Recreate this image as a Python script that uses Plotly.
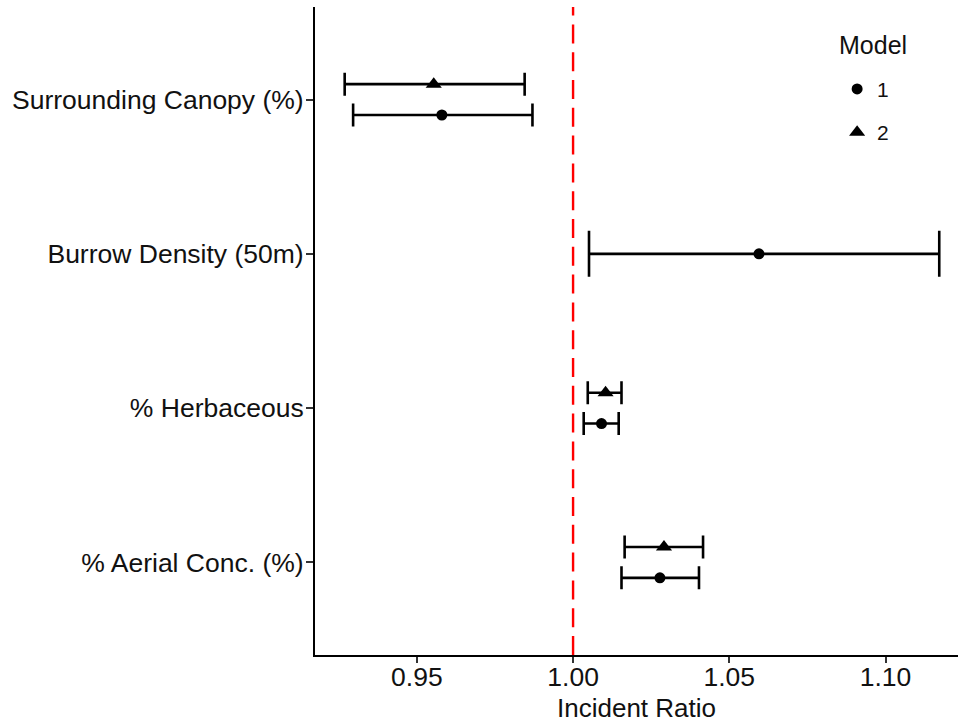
import plotly.graph_objects as go

# ---- data ----
categories = ["% Aerial Conc. (%)", "% Herbaceous", "Burrow Density (50m)", "Surrounding Canopy (%)"]
models = ["1", "2"]

m1_est = [1.0278, 1.0091, 1.0595, 0.9580]
m1_lo = [1.0155, 1.0034, 1.0051, 0.9296]
m1_hi = [1.0403, 1.0146, 1.1172, 0.9870]

m2_est = [1.0291, 1.0104, None, 0.9554]
m2_lo = [1.0165, 1.0047, None, 0.9269]
m2_hi = [1.0416, 1.0155, None, 0.9845]

x_ticks = [0.95, 1.00, 1.05, 1.10]
x_ticktext = ["0.95", "1.00", "1.05", "1.10"]
ref_value = 1.0

series = {
    "1": dict(est=m1_est, lo=m1_lo, hi=m1_hi, symbol="circle", size=11),
    "2": dict(est=m2_est, lo=m2_lo, hi=m2_hi, symbol="triangle-up", size=14),
}

FONT = "Liberation Sans, Arial, sans-serif"
dodge = 0.2  # total dodge width (category units)

fig = go.Figure()
shown = set()
for ci, cat in enumerate(categories):
    present = [m for m in models if series[m]["est"][ci] is not None]
    n = len(present)
    for k, m in enumerate(present):
        s = series[m]
        if n == 1:
            ypos = ci + 1
            capw = 23
        else:
            ypos = ci + 1 + (k - (n - 1) / 2) * (dodge / (n - 1))
            capw = 11.5
        est, lo, hi = s["est"][ci], s["lo"][ci], s["hi"][ci]
        fig.add_trace(go.Scatter(
            x=[est], y=[ypos], mode="markers",
            name=m, legendgroup=m, showlegend=(m not in shown),
            marker=dict(symbol=s["symbol"], size=s["size"], color="black"),
            error_x=dict(type="data", symmetric=False,
                         array=[hi - est], arrayminus=[est - lo],
                         color="black", thickness=2.6, width=capw),
        ))
        shown.add(m)

fig.add_shape(type="line", xref="x", yref="paper", x0=ref_value, x1=ref_value,
              y0=0, y1=1, line=dict(color="#FF0000", width=2.4, dash="19px,8.8px"),
              layer="below")

fig.add_annotation(text="Model", xref="paper", yref="paper", x=0.812, y=0.9415,
                   xanchor="left", yanchor="middle", showarrow=False,
                   font=dict(size=25, color="#111111"))

fig.update_layout(
    width=958, height=725,
    margin=dict(l=315, r=0, t=7, b=70),
    plot_bgcolor="white", paper_bgcolor="white",
    font=dict(family=FONT, color="#111111"),
    showlegend=True,
    legend=dict(
        font=dict(size=21, color="#111111"),
        x=0.812, y=0.9046, xanchor="left", yanchor="top",
        bgcolor="rgba(0,0,0,0)", tracegroupgap=13, itemsizing="trace",
    ),
    xaxis=dict(
        range=[0.9174, 1.1232], tickvals=x_ticks, ticktext=x_ticktext,
        showgrid=False, zeroline=False, showline=True, linecolor="black", linewidth=2,
        ticks="outside", ticklen=6, tickwidth=2, tickcolor="#333333",
        tickfont=dict(size=26.5, color="#111111"), ticklabelstandoff=-9,
        title=dict(text="Incident Ratio", font=dict(size=26, color="#111111"), standoff=8),
    ),
    yaxis=dict(
        range=[0.4, 4.6], tickvals=[1, 2, 3, 4], ticktext=categories,
        showgrid=False, zeroline=False, showline=True, linecolor="black", linewidth=2,
        ticks="outside", ticklen=7, tickwidth=2, tickcolor="#333333",
        tickfont=dict(size=26.5, color="#111111"), ticklabelstandoff=-3,
    ),
)

fig.write_html("out.html")
